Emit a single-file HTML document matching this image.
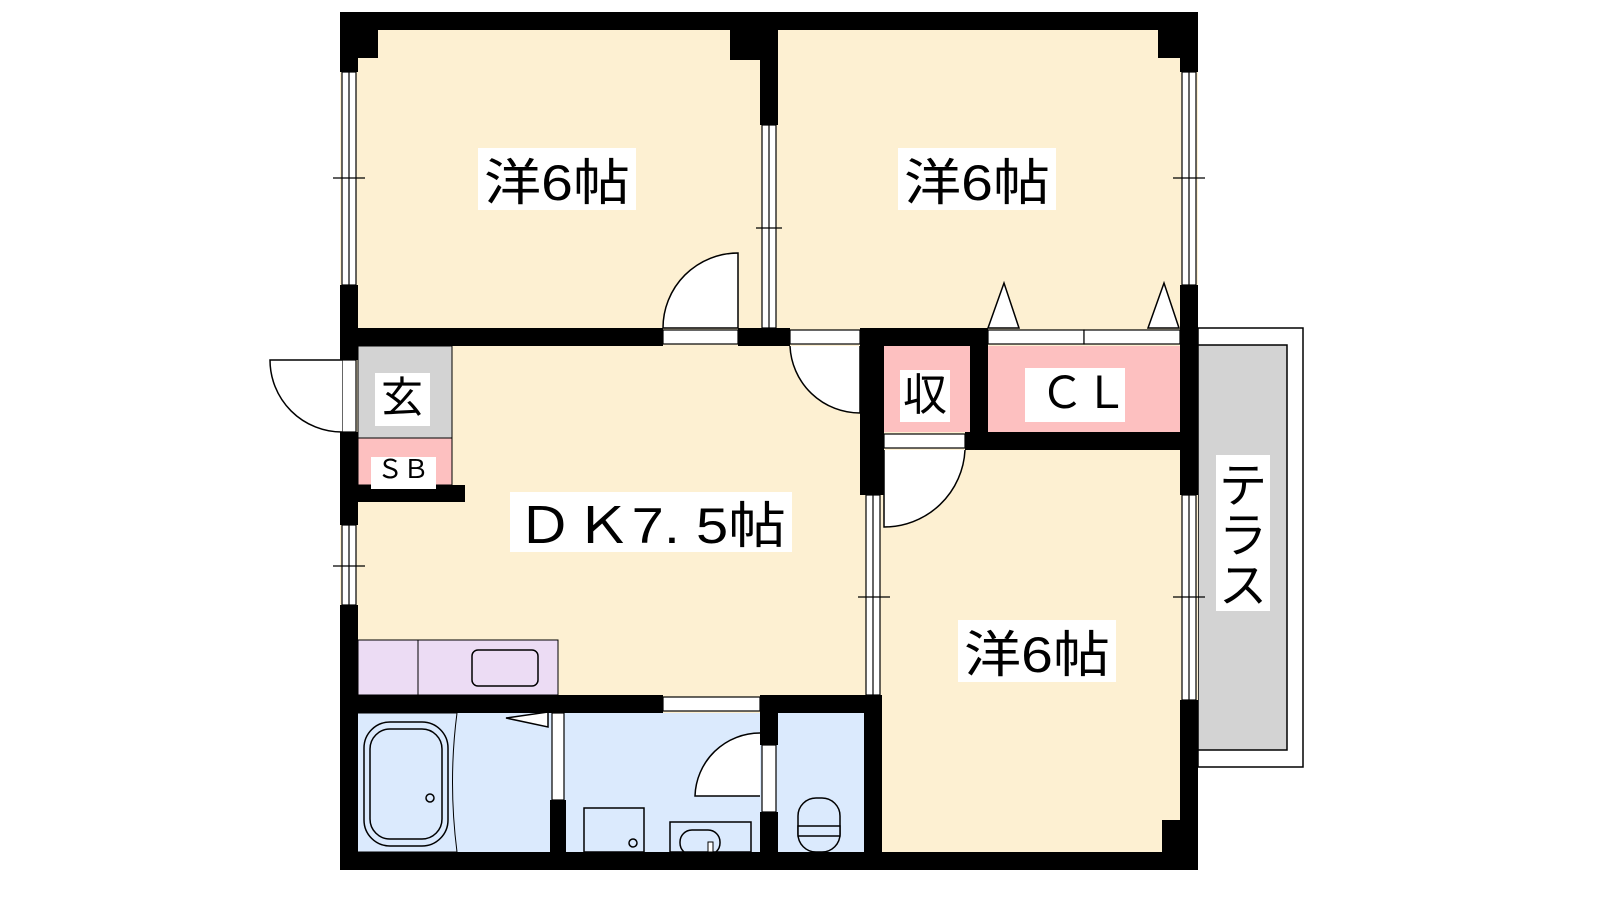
<!DOCTYPE html>
<html><head><meta charset="utf-8"><style>
body{margin:0;background:#fff;}
svg{display:block}
text{font-family:"Liberation Sans","Noto Sans CJK JP",sans-serif;fill:#000}
</style></head><body>
<svg width="1600" height="900" viewBox="0 0 1600 900" xmlns="http://www.w3.org/2000/svg">
<rect x="1198" y="328" width="105" height="439" fill="#fff" stroke="#000" stroke-width="1.5"/>
<rect x="1198" y="345" width="89" height="405" fill="#d3d3d3" stroke="#000" stroke-width="1.5"/>
<rect x="340" y="12" width="858" height="858" fill="#fdf0d2"/>
<rect x="358" y="346" width="94" height="92" fill="#d3d3d3" stroke="#000" stroke-width="1"/>
<rect x="358" y="438" width="94" height="47" fill="#fdc0c0" stroke="#000" stroke-width="1"/>
<rect x="884" y="346" width="86" height="86" fill="#fdc0c0"/>
<rect x="988" y="346" width="192" height="86" fill="#fdc0c0"/>
<rect x="358" y="640" width="200" height="55" fill="#ecdcf4" stroke="#000" stroke-width="1"/>
<line x1="418" y1="640" x2="418" y2="695" stroke="#000"/>
<rect x="472" y="650" width="66" height="36" rx="6" fill="none" stroke="#000" stroke-width="1.5"/>
<rect x="358" y="713" width="506" height="139" fill="#dbeafd"/>
<path d="M358,713 L457,713 Q448,782 457,852 L358,852" fill="none" stroke="#000" stroke-width="1"/>
<rect x="364" y="722" width="84" height="124" rx="26" fill="none" stroke="#000" stroke-width="1.5"/>
<rect x="370" y="729" width="72" height="110" rx="20" fill="none" stroke="#000" stroke-width="1.5"/>
<circle cx="430" cy="798" r="4" fill="none" stroke="#000" stroke-width="1.5"/>
<polygon points="506,718 548,712 548,727" fill="#fff" stroke="#000" stroke-width="1.5"/>
<rect x="584" y="808" width="60" height="44" fill="none" stroke="#000" stroke-width="1.5"/>
<circle cx="633" cy="843" r="4" fill="none" stroke="#000" stroke-width="1.5"/>
<rect x="670" y="822" width="81" height="30" fill="none" stroke="#000" stroke-width="1.5"/>
<rect x="680" y="830" width="40" height="25" rx="12" fill="none" stroke="#000" stroke-width="1.5"/>
<rect x="708" y="842" width="5" height="10" fill="#fff" stroke="#000"/>
<rect x="798" y="798" width="42" height="54" rx="18" fill="none" stroke="#000" stroke-width="1.5"/>
<rect x="798" y="826" width="42" height="10" fill="#dbeafd" stroke="#000" stroke-width="1.5"/>
<g fill="#000">
<rect x="340" y="12" width="858" height="18"/>
<rect x="340" y="852" width="858" height="18"/>
<rect x="340" y="12" width="18" height="60"/>
<rect x="340" y="285" width="18" height="75"/>
<rect x="340" y="432" width="18" height="93"/>
<rect x="340" y="605" width="18" height="265"/>
<rect x="1180" y="12" width="18" height="60"/>
<rect x="1180" y="285" width="18" height="210"/>
<rect x="1180" y="700" width="18" height="170"/>
<rect x="358" y="30" width="20" height="28"/>
<rect x="730" y="30" width="48" height="30"/>
<rect x="760" y="30" width="18" height="95"/>
<rect x="1158" y="30" width="22" height="28"/>
<rect x="340" y="328" width="323" height="18"/>
<rect x="738" y="328" width="52" height="18"/>
<rect x="860" y="328" width="128" height="18"/>
<rect x="860" y="328" width="24" height="167"/>
<rect x="970" y="328" width="18" height="122"/>
<rect x="965" y="432" width="215" height="18"/>
<rect x="864" y="695" width="18" height="175"/>
<rect x="340" y="485" width="125" height="17"/>
<rect x="340" y="695" width="323" height="18"/>
<rect x="760" y="695" width="122" height="18"/>
<rect x="550" y="800" width="16" height="52"/>
<rect x="760" y="695" width="18" height="50"/>
<rect x="760" y="812" width="18" height="40"/>
<rect x="1162" y="820" width="18" height="32"/>
</g>
<g fill="#fff" stroke="#000" stroke-width="1.2">
<rect x="342" y="72" width="14" height="213"/><line x1="349" y1="72" x2="349" y2="285"/>
<rect x="342" y="525" width="14" height="80"/><line x1="349" y1="525" x2="349" y2="605"/>
<rect x="1182" y="72" width="14" height="213"/><line x1="1189" y1="72" x2="1189" y2="285"/>
<rect x="1182" y="495" width="14" height="205"/><line x1="1189" y1="495" x2="1189" y2="700"/>
<rect x="762" y="125" width="14" height="203"/><line x1="769" y1="125" x2="769" y2="328"/>
<rect x="866" y="495" width="14" height="200"/><line x1="873" y1="495" x2="873" y2="695"/>
<rect x="663" y="330" width="75" height="14"/>
<rect x="790" y="330" width="70" height="14"/>
<rect x="988" y="330" width="96" height="14"/><rect x="1084" y="330" width="96" height="14"/>
<rect x="884" y="434" width="81" height="14"/>
<rect x="663" y="697" width="97" height="14"/>
<rect x="342" y="360" width="14" height="72"/>
<rect x="552" y="713" width="12" height="87"/>
<rect x="762" y="745" width="14" height="67"/>
</g>
<g stroke="#000" stroke-width="1.2">
<line x1="333" y1="178" x2="365" y2="178"/><line x1="333" y1="566" x2="365" y2="566"/>
<line x1="1173" y1="178" x2="1205" y2="178"/><line x1="1173" y1="597" x2="1205" y2="597"/>
<line x1="858" y1="597" x2="890" y2="597"/><line x1="756" y1="228" x2="782" y2="228"/>
</g>
<g fill="#fff" stroke="#000" stroke-width="1.5">
<path d="M663,328 A75,75 0 0 1 738,253 L738,328 Z"/>
<path d="M790,346 A70,70 0 0 0 860,413 L860,346"/>
<path d="M884,450 L884,527 A81,81 0 0 0 965,450"/>
<path d="M342,360 L270,360 A72,72 0 0 0 342,432"/>
<path d="M760,733 A65,65 0 0 0 695,796 L760,796"/>
<polygon points="988,328 1004,283 1019,328"/>
<polygon points="1148,328 1164,283 1179,328"/>
</g>
<g font-size="50">
<rect x="478" y="148" width="158" height="62" fill="#fff"/><text x="557" y="200" text-anchor="middle" textLength="146" lengthAdjust="spacingAndGlyphs">洋6帖</text>
<rect x="898" y="148" width="158" height="62" fill="#fff"/><text x="977" y="200" text-anchor="middle" textLength="146" lengthAdjust="spacingAndGlyphs">洋6帖</text>
<rect x="958" y="620" width="158" height="62" fill="#fff"/><text x="1037" y="672" text-anchor="middle" textLength="146" lengthAdjust="spacingAndGlyphs">洋6帖</text>
<rect x="510" y="492" width="282" height="60" fill="#fff"/><text x="651" y="543" text-anchor="middle" textLength="270" lengthAdjust="spacingAndGlyphs">ＤＫ7. 5帖</text>
</g>
<rect x="375" y="373" width="55" height="53" fill="#fff"/><text x="402" y="412" font-size="42" text-anchor="middle">玄</text>
<rect x="371" y="457" width="65" height="32" fill="#fff"/><text x="403" y="478" font-size="26" text-anchor="middle">ＳＢ</text>
<rect x="900" y="370" width="50" height="52" fill="#fff"/><text x="925" y="410" font-size="44" text-anchor="middle">収</text>
<rect x="1025" y="368" width="100" height="54" fill="#fff"/><text x="1084" y="408" font-size="44" text-anchor="middle">ＣＬ</text>
<rect x="1216" y="455" width="54" height="156" fill="#fff"/>
<text x="1243" y="502" font-size="48" text-anchor="middle">テ</text>
<text x="1243" y="552" font-size="48" text-anchor="middle">ラ</text>
<text x="1243" y="602" font-size="48" text-anchor="middle">ス</text>
</svg>
</body></html>
